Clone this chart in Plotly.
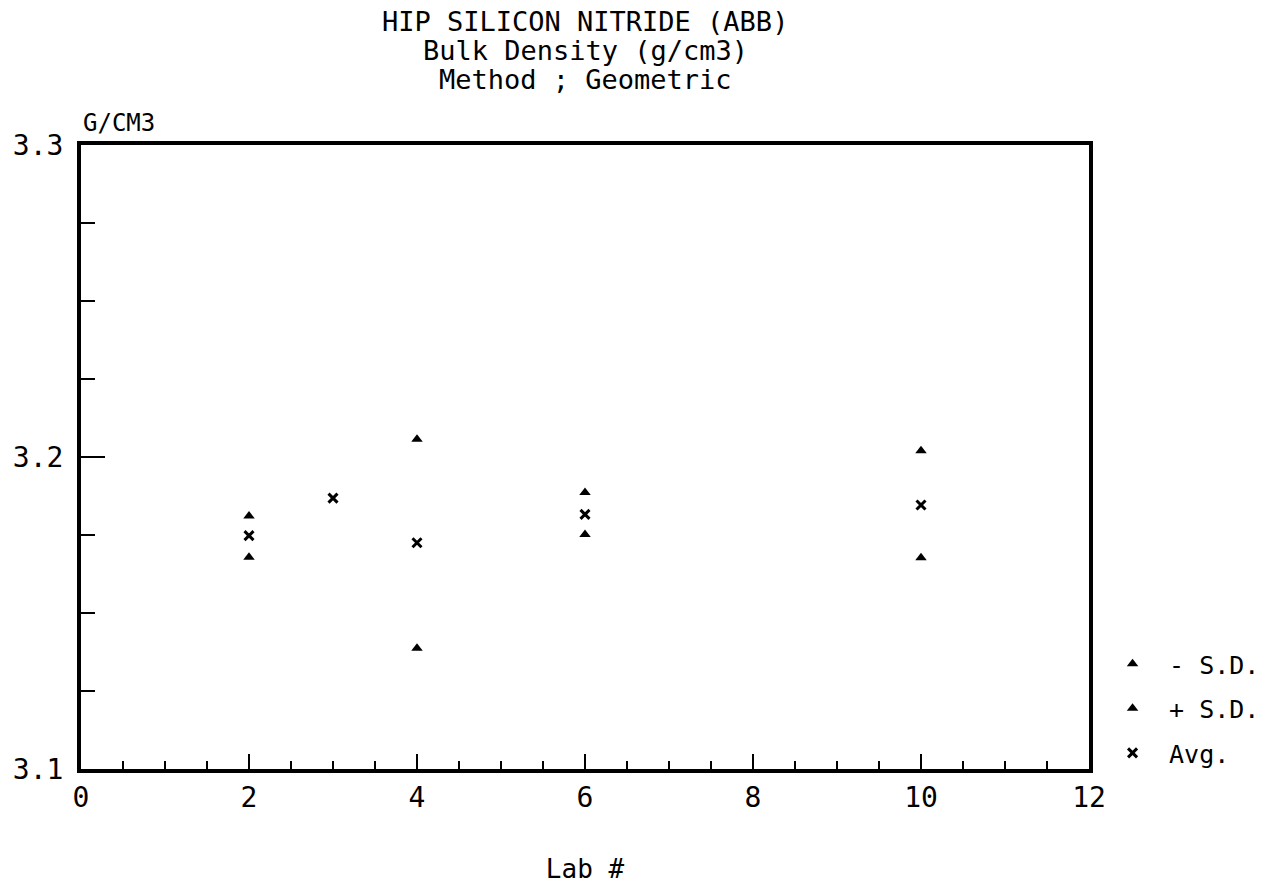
import plotly.graph_objects as go

# Data
labs_sd = [2, 4, 6, 10]
minus_sd = [3.1679, 3.1387, 3.1752, 3.1677]
plus_sd = [3.1811, 3.2057, 3.1886, 3.2020]
labs_avg = [2, 3, 4, 6, 10]
avg = [3.1748, 3.1868, 3.1725, 3.1816, 3.1846]

title_lines = ["HIP SILICON NITRIDE (ABB)", "Bulk Density (g/cm3)", "Method ; Geometric"]
x_title = "Lab #"
y_unit = "G/CM3"
x_ticks = [0, 2, 4, 6, 8, 10, 12]
y_ticks = [3.1, 3.2, 3.3]

FONT = "DejaVu Sans Mono"
fig = go.Figure()
fig.add_trace(go.Scatter(x=labs_sd, y=minus_sd, mode="markers", name="- S.D.",
                         legendgroup="a",
                         marker=dict(symbol="triangle-up", size=10, color="black")))
fig.add_trace(go.Scatter(x=labs_sd, y=plus_sd, mode="markers", name="+ S.D.",
                         legendgroup="b",
                         marker=dict(symbol="triangle-up", size=10, color="black")))
fig.add_trace(go.Scatter(x=labs_avg, y=avg, mode="markers", name="Avg.",
                         legendgroup="c",
                         marker=dict(symbol="x-thin", size=9, color="black",
                                     line=dict(width=3, color="black"))))

ann = []
for i, t in enumerate(title_lines):
    ann.append(dict(text=t, xref="paper", yref="paper", x=0.5, y=1,
                    yshift=145 - (21 + 29 * i), xanchor="center", yanchor="middle",
                    showarrow=False, font=dict(family=FONT, size=27, color="black")))
ann.append(dict(text=y_unit, xref="paper", yref="paper", x=0, y=1, yshift=22,
                xanchor="left", yanchor="middle", showarrow=False,
                font=dict(family=FONT, size=24, color="black")))

fig.update_layout(
    width=1285, height=888,
    margin=dict(l=81, r=196, t=145, b=119, autoexpand=False),
    paper_bgcolor="white", plot_bgcolor="white",
    font=dict(family=FONT, color="black", size=24),
    showlegend=True,
    legend=dict(x=1.007, xanchor="left", y=0.205, yanchor="top", xref="paper",
                font=dict(family=FONT, size=25, color="black"),
                tracegroupgap=9, itemwidth=63, bgcolor="rgba(0,0,0,0)",
                traceorder="grouped"),
    annotations=ann,
)
fig.update_xaxes(range=[0, 12], tickmode="array", tickvals=x_ticks,
                 ticks="inside", ticklen=15, tickwidth=2, tickcolor="black",
                 minor=dict(dtick=0.5, ticks="inside", ticklen=8, tickwidth=2, tickcolor="black"),
                 showline=True, linewidth=4, linecolor="black", mirror=True,
                 showgrid=False, zeroline=False,
                 tickfont=dict(family=FONT, size=28),
                 title=dict(text=x_title, font=dict(family=FONT, size=26), standoff=48))
fig.update_yaxes(range=[3.1, 3.3], tickmode="array", tickvals=y_ticks, tickformat=".1f",
                 ticks="inside", ticklen=24, tickwidth=2, tickcolor="black",
                 minor=dict(dtick=0.025, tick0=3.1, ticks="inside", ticklen=14, tickwidth=2, tickcolor="black"),
                 showline=True, linewidth=4, linecolor="black", mirror=True,
                 showgrid=False, zeroline=False, ticklabelstandoff=8,
                 tickfont=dict(family=FONT, size=28))
fig.write_html("out.html")
